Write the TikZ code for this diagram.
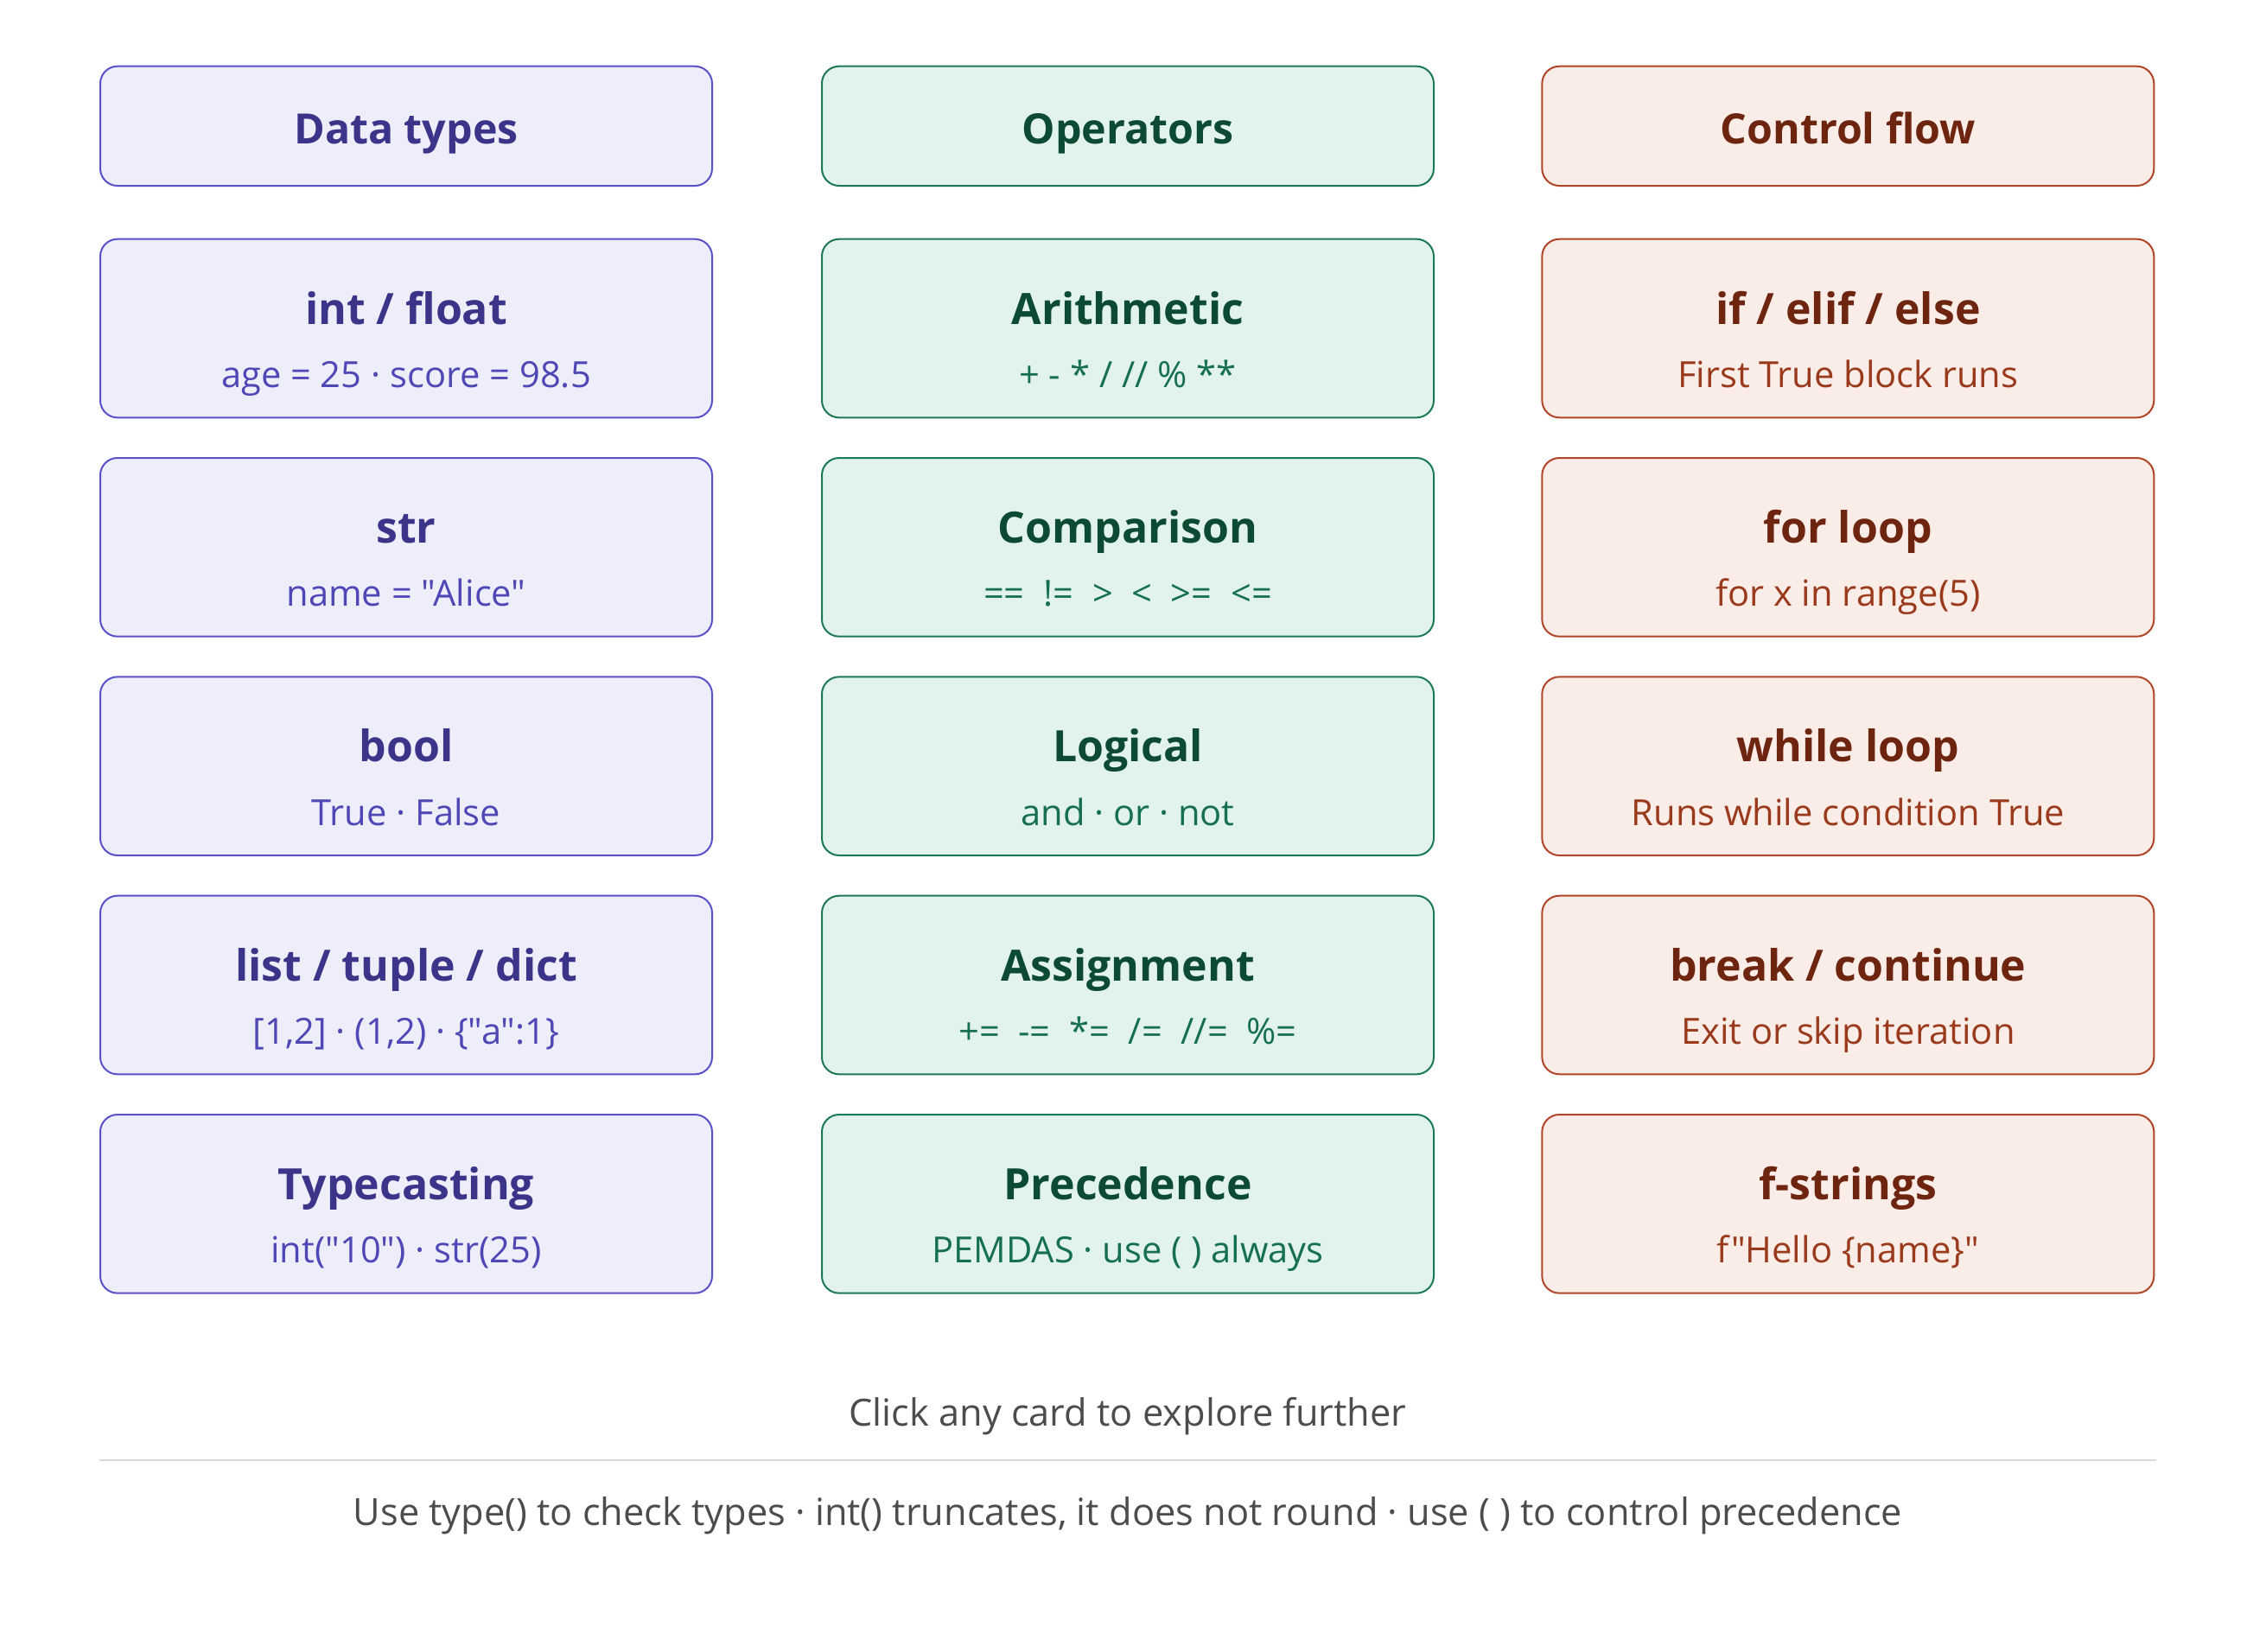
\documentclass[tikz,border=0pt]{standalone}
\usepackage{fontspec}
\setmainfont{Open Sans}[Ligatures=TeXOff]
\begin{document}
\begin{tikzpicture}[x=0.5pt,y=-0.5pt,
 card/.style={draw,rounded corners=6pt,line width=0.6pt,minimum width=212.4pt,inner sep=0pt},
 hd/.style={card,minimum height=41.5pt},
 bx/.style={card,minimum height=62pt},
 b/.style={fill=bF,draw=bD,text=bT},
 g/.style={fill=gF,draw=gD,text=gT},
 r/.style={fill=rF,draw=rD,text=rT}]
\definecolor{bF}{HTML}{EEEEFB}\definecolor{bD}{HTML}{5A50C8}\definecolor{bT}{HTML}{3C3489}\definecolor{bS}{HTML}{4E47B5}
\definecolor{gF}{HTML}{E1F3EC}\definecolor{gD}{HTML}{1B7A55}\definecolor{gT}{HTML}{0C4A34}\definecolor{gS}{HTML}{167050}
\definecolor{rF}{HTML}{FAECE6}\definecolor{rD}{HTML}{B0452A}\definecolor{rT}{HTML}{6E2510}\definecolor{rS}{HTML}{9A3A1C}
\useasboundingbox (0,0) rectangle (1560,1147);
\newcommand\hdr[4]{%
 \node[hd,#1] (#2) at (#3,87.5) {};
 \node[anchor=base,text=#1T,font=\fontsize{14.5}{17}\selectfont\bfseries] (#2t) at (#3,100) {#4};}
\hdr{b}{h1}{282}{Data types}
\hdr{g}{h2}{783}{Operators}
\hdr{r}{h3}{1283}{Control flow}
\newcommand\crd[6]{%
 \node[bx,#1] (#2) at (#3,#4) {};
 \node[anchor=base,text=#1T,font=\fontsize{15}{18}\selectfont\bfseries] (#2t) at (#3,#4-3) {#5};
 \node[anchor=base,text=#1S,font=\fontsize{12.5}{15}\selectfont] (#2s) at (#3,#4+41) {#6};}
\crd{b}{a1}{282}{228}{int / float}{age = 25 · score = 98.5}
\crd{b}{a2}{282}{380}{str}{name = "Alice"}
\crd{b}{a3}{282}{532}{bool}{True · False}
\crd{b}{a4}{282}{684}{list / tuple / dict}{[1,2] · (1,2) · \{"a":1\}}
\crd{b}{a5}{282}{836}{Typecasting}{int("10") · str(25)}
\crd{g}{b1}{783}{228}{Arithmetic}{+ - * / // \% **}
\crd{g}{b2}{783}{380}{Comparison}{==\ \ !=\ \ >\ \ <\ \ >=\ \ <=}
\crd{g}{b3}{783}{532}{Logical}{and · or · not}
\crd{g}{b4}{783}{684}{Assignment}{+=\ \ -=\ \ *=\ \ /=\ \ //=\ \ \%=}
\crd{g}{b5}{783}{836}{Precedence}{PEMDAS · use ( ) always}
\crd{r}{c1}{1283}{228}{if / elif / else}{First True block runs}
\crd{r}{c2}{1283}{380}{for loop}{for x in range(5)}
\crd{r}{c3}{1283}{532}{while loop}{Runs while condition True}
\crd{r}{c4}{1283}{684}{break / continue}{Exit or skip iteration}
\crd{r}{c5}{1283}{836}{f-strings}{f"Hello \{name\}"}
\node[anchor=base,text=black!70,font=\fontsize{13}{16}\selectfont] (f1) at (783,990) {Click any card to explore further};
\coordinate (l1) at (69,1014); \coordinate (l2) at (1497,1014);
\draw[black!15,line width=0.5pt] (l1) -- (l2);
\node[anchor=base,text=black!70,font=\fontsize{13}{16}\selectfont] (f2) at (783,1059) {Use type() to check types · int() truncates, it does not round · use ( ) to control precedence};
\end{tikzpicture}
\end{document}
